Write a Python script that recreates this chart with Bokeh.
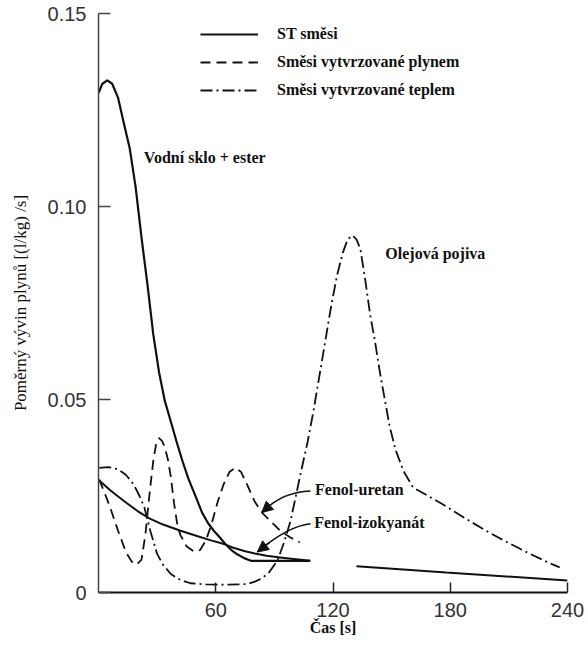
from bokeh.plotting import figure
from bokeh.models import (Range1d, FixedTicker, NumeralTickFormatter, Label, Legend,
                          LegendItem, Arrow, NormalHead)
from bokeh.core.properties import value
from bokeh.embed import file_html
from bokeh.resources import INLINE

# ---------------- data ----------------
# ST směsi – Vodní sklo + ester (solid)
st_t = [0, 2, 4.5, 7, 10, 13, 16, 19, 22, 25, 28, 31, 34, 37, 40, 43, 46, 50, 53, 56,
        59, 62, 65, 68, 71, 74.5, 78, 108]
st_v = [0.1294, 0.1318, 0.1327, 0.1318, 0.1282, 0.1215, 0.1150, 0.1050, 0.0920, 0.0800,
        0.0670, 0.0570, 0.0495, 0.0443, 0.0390, 0.0340, 0.0295, 0.0245, 0.0207, 0.0180,
        0.0160, 0.0143, 0.0125, 0.0110, 0.0099, 0.0089, 0.0082, 0.0082]
# ST směsi – continuation after the gap
st_tail_t = [132, 178, 240]
st_tail_v = [0.0068, 0.0052, 0.0031]

# Fenol-izokyanát (solid)
izo_t = [0.4, 6, 13, 20, 26, 33, 42, 50, 57.5, 62, 65, 69, 75, 80, 86, 94, 101, 108.5]
izo_v = [0.0290, 0.0265, 0.0237, 0.0211, 0.0192, 0.0176, 0.0160, 0.0147, 0.0135, 0.0129,
         0.0124, 0.0116, 0.0107, 0.0101, 0.0095, 0.0090, 0.0086, 0.0082]

# Směsi vytvrzované plynem – Fenol-uretan (dashed)
gas_t = [0.3, 3, 6, 10, 14, 17, 19.5, 22, 24, 26, 28, 29.5, 31, 32.5, 34, 35.5, 37, 38.7,
         40.5, 42, 45, 49, 52, 55, 58, 61, 64, 67, 70, 73, 76, 80, 84, 88, 93, 98, 103]
gas_v = [0.0293, 0.0260, 0.0220, 0.0160, 0.0105, 0.0080, 0.0072, 0.0085, 0.0150, 0.0250,
         0.0340, 0.0385, 0.0400, 0.0393, 0.0375, 0.0345, 0.0300, 0.0230, 0.0170, 0.0148,
         0.0120, 0.0106, 0.0110, 0.0135, 0.0180, 0.0235, 0.0280, 0.0312, 0.0323, 0.0312,
         0.0280, 0.0235, 0.0205, 0.0185, 0.0160, 0.0143, 0.0130]

# Směsi vytvrzované teplem – Olejová pojiva (dash-dot)
heat_t = [0.4, 5, 10, 14, 18, 21, 23.5, 26.5, 30, 33, 37, 42, 47, 55, 65, 76, 80, 83, 87,
          91.5, 95, 98.3, 101, 103.5, 107, 110, 113, 116, 119, 122, 125, 127.5, 130, 132,
          134, 136.5, 139, 141.5, 144, 146.5, 149, 152, 156, 161, 168, 175, 182, 190, 200,
          210, 220, 230, 236]
heat_v = [0.0323, 0.0325, 0.0319, 0.0305, 0.0280, 0.0250, 0.0220, 0.0160, 0.0100, 0.0072,
          0.0048, 0.0032, 0.0024, 0.0021, 0.0020, 0.0022, 0.0028, 0.0035, 0.0050, 0.0082,
          0.0130, 0.0186, 0.0250, 0.0310, 0.0390, 0.0470, 0.0560, 0.0650, 0.0740, 0.0820,
          0.0880, 0.0915, 0.0925, 0.0915, 0.0890, 0.0810, 0.0720, 0.0650, 0.0570, 0.0500,
          0.0430, 0.0370, 0.0315, 0.0272, 0.0252, 0.0232, 0.0210, 0.0185, 0.0155, 0.0128,
          0.0102, 0.0078, 0.0065]

x_ticks = [60, 120, 180, 240]
y_ticks = [0, 0.05, 0.10, 0.15]
y_tick_labels = ["0", "0.05", "0.10", "0.15"]
legend_labels = ["ST směsi", "Směsi vytvrzované plynem", "Směsi vytvrzované teplem"]

# ---------------- figure ----------------
SERIF = "Liberation Serif"
SANS = "Liberation Sans"

p = figure(width=586, height=640, x_range=Range1d(0, 240), y_range=Range1d(0, 0.15),
           output_backend="svg", toolbar_location=None,
           min_border_left=98, min_border_right=19, min_border_top=13, min_border_bottom=48)
p.outline_line_color = None
p.grid.visible = False
p.background_fill_color = "white"

# axes
xa = p.xaxis[0]
xa.ticker = FixedTicker(ticks=x_ticks)
xa.bounds = (0, 240)
xa.major_tick_in = 10
xa.major_tick_out = 0
xa.minor_tick_line_color = None
xa.axis_line_width = 2
xa.axis_line_color = "#111111"
xa.major_tick_line_width = 1.5
xa.major_tick_line_color = "#222222"
xa.major_label_text_font = SANS
xa.major_label_text_font_size = "20px"
xa.major_label_text_color = "#333333"
xa.major_label_standoff = 10
xa.axis_label = "Čas [s]"
xa.axis_label_text_font = SERIF
xa.axis_label_text_font_style = "bold"
xa.axis_label_text_font_size = "16px"
xa.axis_label_text_color = "#111111"
xa.axis_label_standoff = -1

ya = p.yaxis[0]
ya.ticker = FixedTicker(ticks=y_ticks)
ya.formatter = NumeralTickFormatter(format="0.00")
ya.major_label_overrides = dict(zip(y_ticks, y_tick_labels))
ya.bounds = (0, 0.15)
ya.major_tick_in = 12
ya.major_tick_out = 0
ya.minor_tick_line_color = None
ya.axis_line_width = 1.5
ya.axis_line_color = "#444444"
ya.major_tick_line_width = 1.5
ya.major_tick_line_color = "#444444"
ya.major_label_text_font = SANS
ya.major_label_text_font_size = "20px"
ya.major_label_text_color = "#333333"
ya.major_label_standoff = 12
ya.axis_label = "Poměrný vývin plynů [(l/kg) /s]"
ya.axis_label_text_font = SERIF
ya.axis_label_text_font_style = "normal"
ya.axis_label_text_font_size = "17px"
ya.axis_label_text_color = "#111111"
ya.axis_label_standoff = 15

# curves
INK = "#111111"
r_st = p.line(st_t, st_v, line_color=INK, line_width=2.2, line_join="round")
p.line(st_tail_t, st_tail_v, line_color=INK, line_width=2.0)
p.line(izo_t, izo_v, line_color=INK, line_width=2.0, line_join="round")
r_gas = p.line(gas_t, gas_v, line_color=INK, line_width=1.8, line_dash="10 6",
               line_join="round")
r_heat = p.line(heat_t, heat_v, line_color=INK, line_width=1.8, line_dash="12 4 2 4",
                line_join="round")

# legend
legend = Legend(items=[LegendItem(label=value(legend_labels[0]), renderers=[r_st]),
                       LegendItem(label=value(legend_labels[1]), renderers=[r_gas]),
                       LegendItem(label=value(legend_labels[2]), renderers=[r_heat])],
                location=(102, 492), glyph_width=58, glyph_height=20, label_height=20,
                spacing=8, label_standoff=19, padding=0, margin=0,
                border_line_color=None, background_fill_alpha=0,
                label_text_font=SERIF, label_text_font_style="bold",
                label_text_font_size="16px", label_text_color=INK)
p.add_layout(legend)

# text labels
def add_label(text, x, y):
    p.add_layout(Label(x=x, y=y, text=text, text_font=SERIF, text_font_style="bold",
                       text_font_size="16px", text_color=INK, text_baseline="middle",
                       text_align="left"))

add_label("Vodní sklo + ester", 23.2, 0.1126)
add_label("Olejová pojiva", 146.8, 0.0877)
add_label("Fenol-uretan", 110.8, 0.0268)
add_label("Fenol-izokyanát", 110.4, 0.0181)

# pointer arrows (quadratic curves with arrow heads)
arrows = [
    ((108.5, 0.0263), (94.0, 0.0261), (83.5, 0.0207)),   # Fenol-uretan
    ((108.5, 0.0178), (97.0, 0.0172), (81.3, 0.0105)),   # Fenol-izokyanát
]
for p0, c, p2 in arrows:
    p.quadratic(x0=[p0[0]], y0=[p0[1]], x1=[p2[0]], y1=[p2[1]], cx=[c[0]], cy=[c[1]],
                line_color=INK, line_width=1.6)
    u = 0.8
    sx = (1 - u) ** 2 * p0[0] + 2 * (1 - u) * u * c[0] + u ** 2 * p2[0]
    sy = (1 - u) ** 2 * p0[1] + 2 * (1 - u) * u * c[1] + u ** 2 * p2[1]
    p.add_layout(Arrow(x_start=sx, y_start=sy, x_end=p2[0], y_end=p2[1],
                       line_color=INK, line_width=1.6,
                       end=NormalHead(size=11, fill_color=INK, line_color=INK)))

open("out.html", "w").write(file_html(p, INLINE))
